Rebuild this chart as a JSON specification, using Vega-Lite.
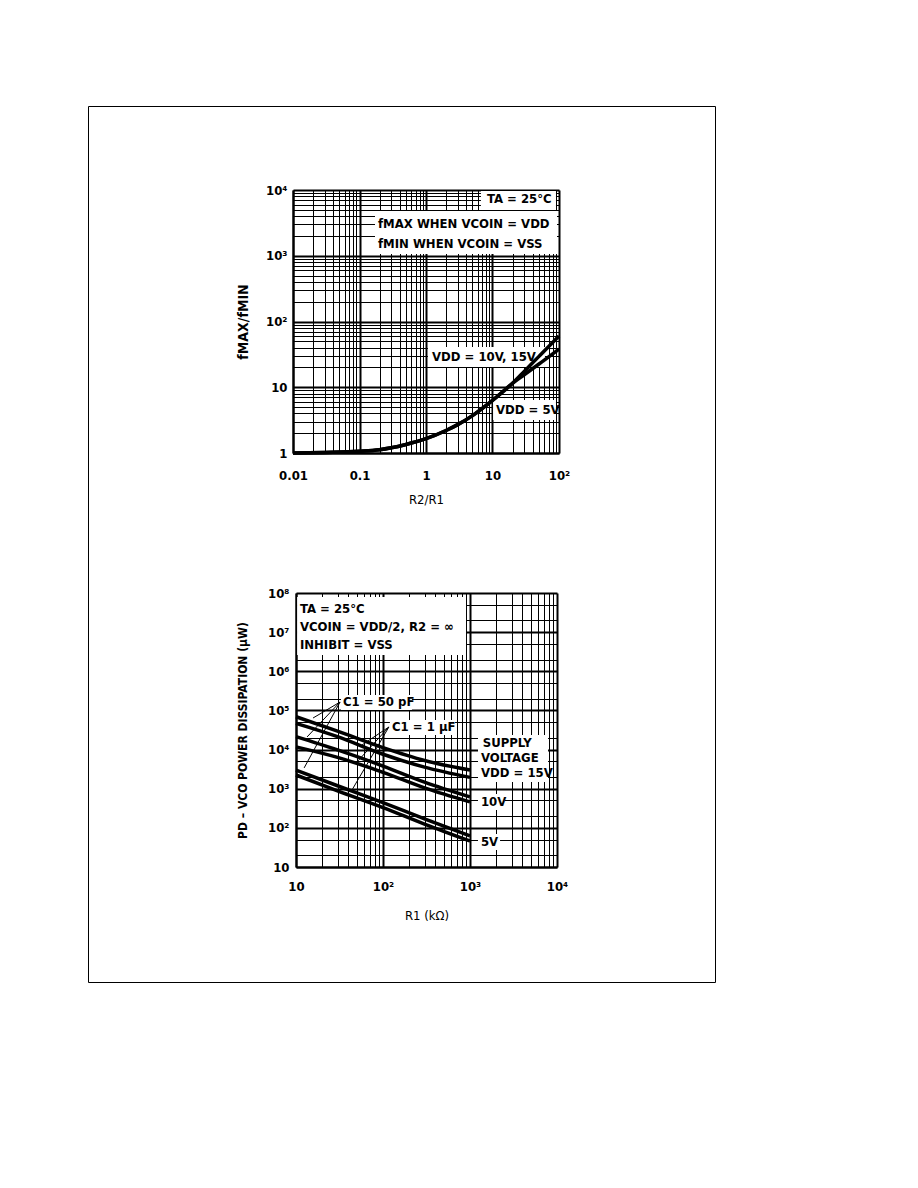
{
  "$schema": "https://vega.github.io/schema/vega-lite/v6.json",
  "width": 627,
  "height": 876,
  "autosize": "none",
  "padding": {"left": 88, "top": 106, "right": 4, "bottom": 4},
  "background": "white",
  "config": {
    "view": {"stroke": "#000", "strokeWidth": 1},
    "font": "Liberation Sans Narrow, DejaVu Sans Condensed, Roboto Condensed, Liberation Sans, sans-serif",
    "axis": {
      "labelFont": "Liberation Sans Narrow, DejaVu Sans Condensed, Roboto Condensed, Liberation Sans, sans-serif",
      "titleFont": "Liberation Sans Narrow, DejaVu Sans Condensed, Roboto Condensed, Liberation Sans, sans-serif",
      "labelColor": "#000", "titleColor": "#000", "gridColor": "#000", "gridOpacity": 1,
      "domainColor": "#000", "domainWidth": 2, "ticks": false, "tickSize": 0,
      "labelOverlap": false, "labelFlush": false, "labelFontSize": 13, "labelFontWeight": "bold",
      "titleFontSize": 13, "titleFontWeight": "bold"
    }
  },
  "datasets": {
    "topCurves": [
      {"series": "VDD = 10V, 15V", "x": 0.01, "y": 1.0}, {"series": "VDD = 10V, 15V", "x": 0.03, "y": 1.02},
      {"series": "VDD = 10V, 15V", "x": 0.1, "y": 1.06}, {"series": "VDD = 10V, 15V", "x": 0.2, "y": 1.12},
      {"series": "VDD = 10V, 15V", "x": 0.3, "y": 1.2}, {"series": "VDD = 10V, 15V", "x": 0.5, "y": 1.35},
      {"series": "VDD = 10V, 15V", "x": 1, "y": 1.65}, {"series": "VDD = 10V, 15V", "x": 2, "y": 2.2},
      {"series": "VDD = 10V, 15V", "x": 3, "y": 2.7}, {"series": "VDD = 10V, 15V", "x": 5, "y": 3.7},
      {"series": "VDD = 10V, 15V", "x": 10, "y": 6.3}, {"series": "VDD = 10V, 15V", "x": 20, "y": 11.5},
      {"series": "VDD = 10V, 15V", "x": 30, "y": 17.4}, {"series": "VDD = 10V, 15V", "x": 50, "y": 29.5},
      {"series": "VDD = 10V, 15V", "x": 70, "y": 41.7}, {"series": "VDD = 10V, 15V", "x": 100, "y": 60},
      {"series": "VDD = 5V", "x": 0.01, "y": 1.0}, {"series": "VDD = 5V", "x": 0.03, "y": 1.02},
      {"series": "VDD = 5V", "x": 0.1, "y": 1.06}, {"series": "VDD = 5V", "x": 0.2, "y": 1.12},
      {"series": "VDD = 5V", "x": 0.3, "y": 1.2}, {"series": "VDD = 5V", "x": 0.5, "y": 1.35},
      {"series": "VDD = 5V", "x": 1, "y": 1.65}, {"series": "VDD = 5V", "x": 2, "y": 2.2},
      {"series": "VDD = 5V", "x": 3, "y": 2.7}, {"series": "VDD = 5V", "x": 5, "y": 3.7},
      {"series": "VDD = 5V", "x": 10, "y": 6.3}, {"series": "VDD = 5V", "x": 20, "y": 11.5},
      {"series": "VDD = 5V", "x": 30, "y": 15.5}, {"series": "VDD = 5V", "x": 50, "y": 22.6},
      {"series": "VDD = 5V", "x": 70, "y": 29}, {"series": "VDD = 5V", "x": 100, "y": 38}
    ],
    "topText": [
      {"x": 8.27, "y": 7300, "label": "TA = 25°C"},
      {"x": 0.19, "y": 3040, "label": "fMAX WHEN VCOIN = VDD"},
      {"x": 0.19, "y": 1510, "label": "fMIN WHEN VCOIN = VSS"},
      {"x": 1.23, "y": 28.9, "label": "VDD = 10V, 15V"},
      {"x": 11.3, "y": 4.51, "label": "VDD = 5V"}
    ],
    "topBoxes": [
      {"x1": 6.7, "x2": 90, "y1": 4960, "y2": 9660},
      {"x1": 0.171, "x2": 93.3, "y1": 1063, "y2": 4800},
      {"x1": 1.07, "x2": 61.5, "y1": 20.3, "y2": 40.9},
      {"x1": 10.2, "x2": 90, "y1": 3.18, "y2": 6.4}
    ],
    "bottomLines": [
      {"vdd": "15V", "c1": "50 pF", "x": 10, "y": 69000}, {"vdd": "15V", "c1": "50 pF", "x": 30, "y": 29500},
      {"vdd": "15V", "c1": "50 pF", "x": 100, "y": 11200}, {"vdd": "15V", "c1": "50 pF", "x": 300, "y": 5250},
      {"vdd": "15V", "c1": "50 pF", "x": 1000, "y": 3000},
      {"vdd": "15V", "c1": "1 µF", "x": 10, "y": 46800}, {"vdd": "15V", "c1": "1 µF", "x": 30, "y": 21400},
      {"vdd": "15V", "c1": "1 µF", "x": 100, "y": 7600}, {"vdd": "15V", "c1": "1 µF", "x": 300, "y": 3550},
      {"vdd": "15V", "c1": "1 µF", "x": 1000, "y": 1950},
      {"vdd": "10V", "c1": "50 pF", "x": 10, "y": 21400}, {"vdd": "10V", "c1": "50 pF", "x": 30, "y": 9800},
      {"vdd": "10V", "c1": "50 pF", "x": 100, "y": 3800}, {"vdd": "10V", "c1": "50 pF", "x": 300, "y": 1480},
      {"vdd": "10V", "c1": "50 pF", "x": 1000, "y": 620},
      {"vdd": "10V", "c1": "1 µF", "x": 10, "y": 11700}, {"vdd": "10V", "c1": "1 µF", "x": 30, "y": 6300},
      {"vdd": "10V", "c1": "1 µF", "x": 100, "y": 2630}, {"vdd": "10V", "c1": "1 µF", "x": 300, "y": 1050},
      {"vdd": "10V", "c1": "1 µF", "x": 1000, "y": 460},
      {"vdd": "5V", "c1": "50 pF", "x": 10, "y": 3000}, {"vdd": "5V", "c1": "50 pF", "x": 30, "y": 1190},
      {"vdd": "5V", "c1": "50 pF", "x": 100, "y": 440}, {"vdd": "5V", "c1": "50 pF", "x": 300, "y": 170},
      {"vdd": "5V", "c1": "50 pF", "x": 1000, "y": 62},
      {"vdd": "5V", "c1": "1 µF", "x": 10, "y": 2240}, {"vdd": "5V", "c1": "1 µF", "x": 30, "y": 880},
      {"vdd": "5V", "c1": "1 µF", "x": 100, "y": 330}, {"vdd": "5V", "c1": "1 µF", "x": 300, "y": 125},
      {"vdd": "5V", "c1": "1 µF", "x": 1000, "y": 46}
    ],
    "bottomText": [
      {"x": 11.1, "y": 39000000, "label": "TA = 25°C"},
      {"x": 11.1, "y": 13500000, "label": "VCOIN = VDD/2, R2 = ∞"},
      {"x": 11.1, "y": 4700000, "label": "INHIBIT = VSS"},
      {"x": 34.7, "y": 164000, "label": "C1 = 50 pF"},
      {"x": 127, "y": 37800, "label": "C1 = 1 µF"},
      {"x": 1400, "y": 14700, "label": "SUPPLY"},
      {"x": 1337, "y": 6100, "label": "VOLTAGE"},
      {"x": 1337, "y": 2520, "label": "VDD = 15V"},
      {"x": 1337, "y": 458, "label": "10V"},
      {"x": 1337, "y": 43.5, "label": "5V"}
    ],
    "bottomBoxes": [
      {"x1": 10.3, "x2": 900, "y1": 2600000, "y2": 79000000},
      {"x1": 32.9, "x2": 215, "y1": 103000, "y2": 248000},
      {"x1": 120, "x2": 673, "y1": 23500, "y2": 57000},
      {"x1": 1236, "x2": 7890, "y1": 1486, "y2": 23500},
      {"x1": 1236, "x2": 2520, "y1": 286, "y2": 733},
      {"x1": 1236, "x2": 2215, "y1": 27.2, "y2": 69.7}
    ],
    "arrows": [
      {"x": 32.1, "y": 164000, "x2": 15.7, "y2": 64000},
      {"x": 32.1, "y": 164000, "x2": 13.4, "y2": 21000},
      {"x": 32.1, "y": 164000, "x2": 12.4, "y2": 3400},
      {"x": 117, "y": 37800, "x2": 57.4, "y2": 13100},
      {"x": 117, "y": 37800, "x2": 50.2, "y2": 4820},
      {"x": 117, "y": 37800, "x2": 44, "y2": 927}
    ]
  },
  "layer": [
    {
      "layer": [
        {
          "data": {"name": "topBoxes"},
          "mark": {"type": "rect", "fill": "white", "strokeWidth": 0},
          "encoding": {
            "x": {"field": "x1", "type": "quantitative",
              "scale": {"type": "log", "domain": [0.01, 100], "range": [205, 471], "nice": false},
              "axis": {
                "orient": "top", "offset": -347,
                "values": [0.01,0.02,0.03,0.04,0.05,0.06,0.07,0.08,0.09,0.1,0.2,0.3,0.4,0.5,0.6,0.7,0.8,0.9,1,2,3,4,5,6,7,8,9,10,20,30,40,50,60,70,80,90,100],
                "labelExpr": "datum.value == 0.01 ? '0.01' : datum.value == 0.1 ? '0.1' : datum.value == 1 ? '1' : datum.value == 10 ? '10' : datum.value == 100 ? '10²' : ''",
                "labelPadding": -16, "labelBaseline": "top",
                "grid": true,
                "gridWidth": {"condition": {"test": "abs(log(datum.value)/LN10 - round(log(datum.value)/LN10)) < 0.001", "value": 2}, "value": 1},
                "title": "R2/R1", "titleY": 40, "titleBaseline": "top", "titleFontWeight": "normal"
              }},
            "x2": {"field": "x2"},
            "y": {"field": "y1", "type": "quantitative",
              "scale": {"type": "log", "domain": [1, 10000], "range": [347, 84], "nice": false},
              "axis": {
                "orient": "left", "offset": -205,
                "values": [1,2,3,4,5,6,7,8,9,10,20,30,40,50,60,70,80,90,100,200,300,400,500,600,700,800,900,1000,2000,3000,4000,5000,6000,7000,8000,9000,10000],
                "labelExpr": "datum.value == 1 ? '1' : datum.value == 10 ? '10' : datum.value == 100 ? '10²' : datum.value == 1000 ? '10³' : datum.value == 10000 ? '10⁴' : ''",
                "labelPadding": 6,
                "grid": true,
                "gridWidth": {"condition": {"test": "abs(log(datum.value)/LN10 - round(log(datum.value)/LN10)) < 0.001", "value": 2}, "value": 1},
                "title": "fMAX/fMIN", "titleX": -43, "titleBaseline": "bottom", "titleFontSize": 14
              }},
            "y2": {"field": "y2"}
          }
        },
        {
          "data": {"name": "topCurves"},
          "mark": {"type": "line", "color": "#000", "strokeWidth": 3.5, "interpolate": "monotone"},
          "encoding": {
            "x": {"field": "x", "type": "quantitative", "scale": {"type": "log", "domain": [0.01, 100], "range": [205, 471], "nice": false}},
            "y": {"field": "y", "type": "quantitative", "scale": {"type": "log", "domain": [1, 10000], "range": [347, 84], "nice": false}},
            "detail": {"field": "series"}
          }
        },
        {
          "data": {"name": "topText"},
          "mark": {"type": "text", "align": "left", "baseline": "middle", "fontSize": 13, "fontWeight": "bold", "color": "#000"},
          "encoding": {
            "x": {"field": "x", "type": "quantitative", "scale": {"type": "log", "domain": [0.01, 100], "range": [205, 471], "nice": false}},
            "y": {"field": "y", "type": "quantitative", "scale": {"type": "log", "domain": [1, 10000], "range": [347, 84], "nice": false}},
            "text": {"field": "label"}
          }
        }
      ]
    },
    {
      "layer": [
        {
          "data": {"name": "bottomBoxes"},
          "mark": {"type": "rect", "fill": "white", "strokeWidth": 0},
          "encoding": {
            "x": {"field": "x1", "type": "quantitative",
              "scale": {"type": "log", "domain": [10, 10000], "range": [208, 469], "nice": false},
              "axis": {
                "orient": "top", "offset": -761,
                "values": [10,20,30,40,50,60,70,80,90,100,200,300,400,500,600,700,800,900,1000,2000,3000,4000,5000,6000,7000,8000,9000,10000],
                "labelExpr": "datum.value == 10 ? '10' : datum.value == 100 ? '10²' : datum.value == 1000 ? '10³' : datum.value == 10000 ? '10⁴' : ''",
                "labelPadding": -13, "labelBaseline": "top",
                "grid": true,
                "gridWidth": {"condition": {"test": "abs(log(datum.value)/LN10 - round(log(datum.value)/LN10)) < 0.001", "value": 2}, "value": 1},
                "title": "R1 (kΩ)", "titleY": 42, "titleBaseline": "top", "titleFontWeight": "normal"
              }},
            "x2": {"field": "x2"},
            "y": {"field": "y1", "type": "quantitative",
              "scale": {"type": "log", "domain": [10, 100000000], "range": [761, 487], "nice": false},
              "axis": {
                "orient": "left", "offset": -208,
                "values": [10,20,50,100,200,500,1000,2000,5000,10000,20000,50000,100000,200000,500000,1000000,2000000,5000000,10000000,20000000,50000000,100000000],
                "labelExpr": "datum.value == 10 ? '10' : datum.value == 100 ? '10²' : datum.value == 1000 ? '10³' : datum.value == 10000 ? '10⁴' : datum.value == 100000 ? '10⁵' : datum.value == 1000000 ? '10⁶' : datum.value == 10000000 ? '10⁷' : datum.value == 100000000 ? '10⁸' : ''",
                "labelPadding": 7,
                "grid": true,
                "gridWidth": {"condition": {"test": "abs(log(datum.value)/LN10 - round(log(datum.value)/LN10)) < 0.001", "value": 2}, "value": 1},
                "title": "PD – VCO POWER DISSIPATION (µW)", "titleX": -47, "titleBaseline": "bottom", "titleFontSize": 12
              }},
            "y2": {"field": "y2"}
          }
        },
        {
          "data": {"name": "bottomLines"},
          "mark": {"type": "line", "color": "#000", "strokeWidth": 3.5, "interpolate": "monotone"},
          "encoding": {
            "x": {"field": "x", "type": "quantitative", "scale": {"type": "log", "domain": [10, 10000], "range": [208, 469], "nice": false}},
            "y": {"field": "y", "type": "quantitative", "scale": {"type": "log", "domain": [10, 100000000], "range": [761, 487], "nice": false}},
            "detail": [{"field": "vdd"}, {"field": "c1"}]
          }
        },
        {
          "data": {"name": "arrows"},
          "mark": {"type": "rule", "color": "#000", "strokeWidth": 1},
          "encoding": {
            "x": {"field": "x", "type": "quantitative", "scale": {"type": "log", "domain": [10, 10000], "range": [208, 469], "nice": false}},
            "y": {"field": "y", "type": "quantitative", "scale": {"type": "log", "domain": [10, 100000000], "range": [761, 487], "nice": false}},
            "x2": {"field": "x2"},
            "y2": {"field": "y2"}
          }
        },
        {
          "data": {"name": "bottomText"},
          "mark": {"type": "text", "align": "left", "baseline": "middle", "fontSize": 13, "fontWeight": "bold", "color": "#000"},
          "encoding": {
            "x": {"field": "x", "type": "quantitative", "scale": {"type": "log", "domain": [10, 10000], "range": [208, 469], "nice": false}},
            "y": {"field": "y", "type": "quantitative", "scale": {"type": "log", "domain": [10, 100000000], "range": [761, 487], "nice": false}},
            "text": {"field": "label"}
          }
        }
      ]
    }
  ],
  "resolve": {
    "scale": {"x": "independent", "y": "independent"},
    "axis": {"x": "independent", "y": "independent"}
  }
}
